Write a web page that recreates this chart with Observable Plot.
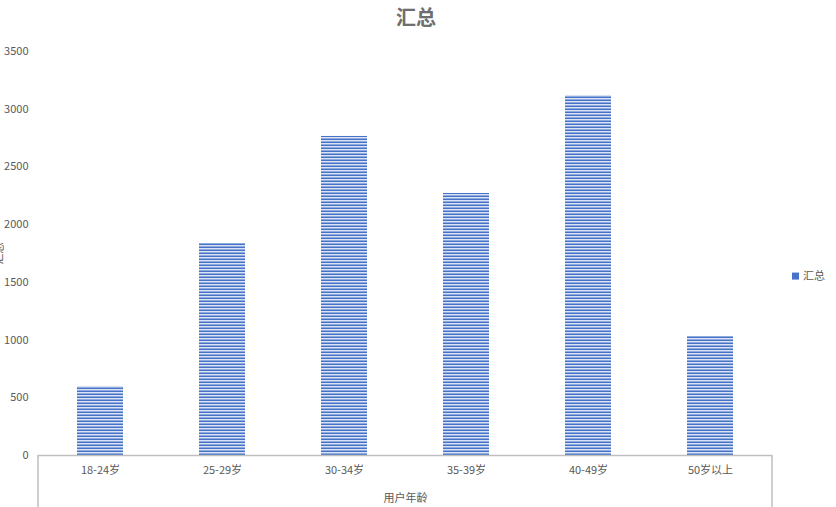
<!DOCTYPE html>
<html>
<head>
<meta charset="utf-8">
<script src="https://cdn.jsdelivr.net/npm/d3@7"></script>
<script src="https://cdn.jsdelivr.net/npm/@observablehq/plot@0.6"></script>
<style>
  html, body { margin: 0; padding: 0; background: #fff; }
  #chart { position: relative; width: 836px; height: 507px; overflow: hidden; }
  svg { overflow: visible; }
</style>
</head>
<body>
<div id="chart"></div>
<script>
const categories = ["18-24岁", "25-29岁", "30-34岁", "35-39岁", "40-49岁", "50岁以上"];
const values = [598, 1837, 2764, 2270, 3119, 1031];
const yTicks = [0, 500, 1000, 1500, 2000, 2500, 3000, 3500];
const titleText = "汇总";
const seriesName = "汇总";
const xLabel = "用户年龄";

const data = categories.map((c, i) => ({category: c, value: values[i]}));
const font = "'Noto Sans CJK SC', 'Microsoft YaHei', sans-serif";
const textColor = "#595959";

const chart = Plot.plot({
  width: 836,
  height: 507,
  marginLeft: 38,
  marginRight: 64,
  marginTop: 51,
  marginBottom: 52,
  style: {fontFamily: font, fontSize: "11px", color: textColor, background: "#fff"},
  x: {domain: categories, paddingInner: 0.62, paddingOuter: 0.31},
  y: {domain: [0, 3500]},
  marks: [
    Plot.axisY({ticks: yTicks, tickSize: 0, tickPadding: 10, tickFormat: d => String(d),
      label: seriesName, labelAnchor: "center", labelArrow: "none", labelOffset: 43, fill: textColor}),
    Plot.axisX({tickSize: 0, tickPadding: 11, label: xLabel, labelAnchor: "center",
      labelArrow: "none", labelOffset: 46, fill: textColor}),
    Plot.barY(data, {x: "category", y: "value", fill: "url(#stripes)"}),
    Plot.ruleY([0], {stroke: "#bfbfbf", strokeWidth: 1.5})
  ]
});

const svg = d3.select(chart);
const defs = svg.insert("defs", ":first-child");
const pat = defs.append("pattern").attr("id", "stripes").attr("patternUnits", "userSpaceOnUse")
  .attr("width", 8).attr("height", 3);
pat.append("rect").attr("width", 8).attr("height", 3).attr("fill", "#ffffff");
pat.append("rect").attr("y", 0.4).attr("width", 8).attr("height", 1.8).attr("fill", "#4672c8");

const xr = chart.scale("x").range;
const y0 = chart.scale("y").apply(0);
[xr[0], xr[1]].forEach(x => {
  svg.append("line").attr("x1", x).attr("x2", x).attr("y1", y0).attr("y2", 507)
    .attr("stroke", "#bfbfbf").attr("stroke-width", 1.5);
});

// title
svg.append("text").attr("x", 416).attr("y", 25)
  .attr("text-anchor", "middle").attr("font-size", 20).attr("font-weight", "bold")
  .attr("fill", "#6e6e6e").attr("font-family", font).text(titleText);

// legend
const ly = chart.scale("y").apply(1550);
svg.append("rect").attr("x", 792).attr("y", ly - 3.5).attr("width", 7).attr("height", 7).attr("fill", "#4672c8");
svg.append("text").attr("x", 803).attr("y", ly).attr("dy", "0.35em").attr("font-size", 11)
  .attr("text-anchor", "start")
  .attr("fill", textColor).attr("font-family", font).text(seriesName);

document.getElementById("chart").appendChild(chart);
</script>
</body>
</html>
